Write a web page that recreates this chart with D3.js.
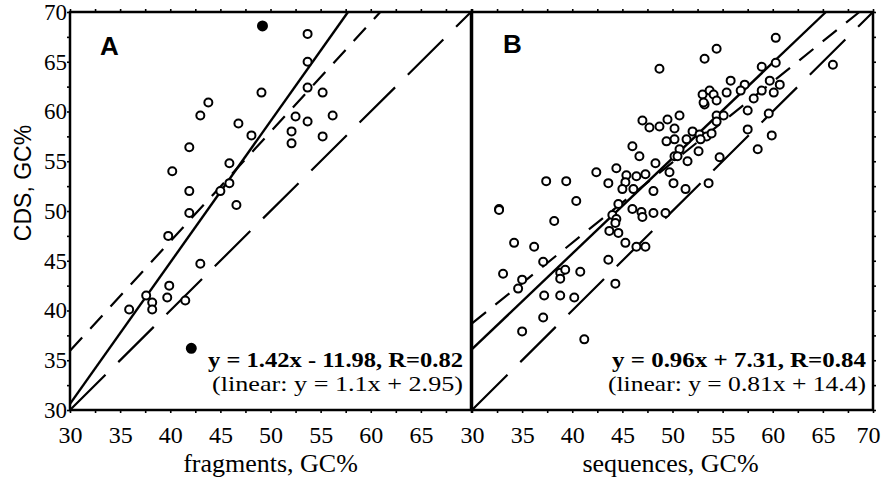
<!DOCTYPE html>
<html>
<head>
<meta charset="utf-8">
<script src="https://cdn.jsdelivr.net/npm/d3@7"></script>
<style>
body { margin: 0; background: #fff; }
</style>
</head>
<body>
<div id="viz"></div>
<script>

// data //

var ticks = d3.range(30, 70.01, 2.5);

// panel A: fragments vs CDS
var fragX = [53.7, 53.7, 49.1, 53.7, 55.2, 43.8, 43.0, 46.8, 52.5, 53.7, 56.2, 48.1, 52.1, 52.1, 55.2, 41.9,
             45.9, 40.2, 41.9, 45.0, 45.9, 46.6, 41.9, 39.8, 43.0, 39.9, 39.7, 37.6, 38.2, 38.2, 35.9, 41.5];
var fragY = [67.8, 65.0, 61.9, 62.4, 61.9, 60.9, 59.6, 58.8, 59.5, 59.0, 59.6, 57.6, 58.0, 56.8, 57.5, 56.4,
             54.8, 54.0, 52.0, 52.0, 52.8, 50.6, 49.8, 47.5, 44.7, 42.5, 41.3, 41.5, 40.8, 40.1, 40.1, 41.0];
var outX = [49.2, 42.1];
var outY = [68.6, 36.2];

// panel B: sequences vs CDS
var seqX = [60.3, 54.4, 53.2, 48.7, 66.0, 58.9, 60.3, 55.8, 57.2, 59.7, 60.7, 55.4, 56.8, 58.9, 60.1, 58.1,
            53.0, 53.7, 54.1, 54.4, 53.2, 53.1, 57.5, 59.6, 54.4, 55.1, 54.4, 50.7, 49.5, 47.0, 47.7, 48.7,
            50.2, 57.5, 52.0, 52.7, 53.4, 53.9, 51.4, 50.2, 49.4, 52.8, 59.9, 50.7, 58.5, 46.0, 46.7, 50.2,
            50.5, 52.6, 51.5, 54.7, 48.3, 44.4, 42.4, 49.7, 45.4, 46.4, 47.3, 43.6, 45.3, 50.1, 53.6, 37.4,
            39.4, 45.0, 46.1, 51.3, 48.1, 40.4, 44.6, 32.7, 32.7, 46.0, 46.9, 48.1, 49.3, 44.0, 47.0, 44.4,
            44.3, 38.2, 43.7, 44.6, 34.2, 36.2, 45.3, 46.4, 47.3, 37.1, 33.1, 35.0, 34.6, 38.8, 38.8, 39.3,
            40.8, 43.6, 44.3, 37.2, 38.8, 40.2, 37.1, 35.0, 41.2];
var seqY = [67.4, 66.3, 65.3, 64.3, 64.7, 64.5, 64.9, 63.1, 62.7, 63.1, 62.7, 61.9, 62.1, 62.1, 61.9, 61.3,
            61.7, 62.1, 61.7, 61.1, 60.7, 60.9, 60.1, 59.8, 59.6, 59.6, 59.0, 59.6, 59.2, 59.1, 58.4, 58.5,
            58.3, 58.2, 58.0, 57.7, 57.5, 57.8, 57.2, 57.2, 57.0, 57.2, 57.6, 56.2, 56.2, 56.5, 55.5, 55.5,
            55.5, 56.0, 55.0, 55.4, 54.8, 54.3, 53.9, 53.9, 53.6, 53.5, 53.7, 52.8, 52.9, 52.8, 52.8, 53.0,
            53.0, 52.2, 52.2, 52.2, 52.0, 51.0, 50.7, 50.2, 50.1, 50.2, 49.9, 49.8, 49.8, 49.6, 49.4, 49.2,
            48.8, 49.0, 48.0, 47.8, 46.8, 46.4, 46.8, 46.4, 46.4, 44.9, 43.7, 43.1, 42.2, 43.8, 43.2, 44.1,
            43.9, 45.1, 42.7, 41.5, 41.5, 41.3, 39.3, 37.9, 37.1];

// fitted lines: [slope, intercept]
var fitA = [1.42, -11.98];
var linA = [1.1, 2.95];
var fitB = [0.96, 7.31];
var linB = [0.81, 14.4];
var diag = [1, 0];

var eqA = ["y = 1.42x - 11.98, R=0.82", "(linear: y = 1.1x + 2.95)"];
var eqB = ["y = 0.96x + 7.31, R=0.84", "(linear: y = 0.81x + 14.4)"];

// svg //

var width = 883;
var height = 483;
var serif = "'Liberation Serif', 'Times New Roman', serif";
var sans = "'Liberation Sans', Arial, sans-serif";

var svg = d3.select("#viz").append("svg")
   .attr("width", width)
   .attr("height", height)
   .style("background", "#fff");

var y = d3.scaleLinear().domain([30, 70]).range([410, 12]);
var xA = d3.scaleLinear().domain([30, 70]).range([70, 471]);
var xB = d3.scaleLinear().domain([30, 70]).range([472, 873]);

function fmt(last) {
   return function(d) { return (d % 5 === 0 && d <= last) ? d : ""; };
}

function styleTicks(g, size) {
   g.attr("font-family", null).attr("font-size", null);
   g.selectAll(".tick line").style("stroke", "#000").style("stroke-width", 1.6);
   g.selectAll(".tick text")
      .style("font-family", serif)
      .style("font-size", size)
      .style("fill", "#000");
   g.select(".domain").remove();
}

function drawAxes(x, lastLabel) {
   var gb = svg.append("g")
      .attr("transform", "translate(0," + y(30) + ")")
      .call(d3.axisBottom(x).tickValues(ticks).tickFormat(fmt(lastLabel)).tickSize(3).tickPadding(13));
   styleTicks(gb, "24px");
   gb.selectAll(".tick text").filter(function(d) { return d === 70; }).attr("dx", -5);
   var gt = svg.append("g")
      .attr("transform", "translate(0," + y(70) + ")")
      .call(d3.axisTop(x).tickValues(ticks).tickFormat("").tickSize(3));
   styleTicks(gt, "10px");
}

function drawLine(x, coef, dash, w) {
   var m = coef[0], b = coef[1];
   var x0 = 30, y0 = m * 30 + b;
   if (y0 < 30) { x0 = (30 - b) / m; y0 = 30; }
   var x1 = Math.min(70, (70 - b) / m);
   var y1 = m * x1 + b;
   svg.append("line")
      .attr("x1", x(x0)).attr("y1", y(y0))
      .attr("x2", x(x1)).attr("y2", y(y1))
      .style("stroke", "#000")
      .style("stroke-width", w)
      .style("stroke-dasharray", dash);
}

function drawPoints(x, xs, ys, filled) {
   svg.append("g").selectAll("circle")
      .data(xs)
      .enter().append("circle")
      .attr("cx", function(d) { return x(d); })
      .attr("cy", function(d, i) { return y(ys[i]); })
      .attr("r", filled ? 4.5 : 4)
      .style("fill", filled ? "#000" : "#fff")
      .style("stroke", "#000")
      .style("stroke-width", 2);
}

function drawEq(lines, right, widths) {
   svg.append("text")
      .attr("x", right - widths[0]).attr("y", 367)
      .attr("textLength", widths[0]).attr("lengthAdjust", "spacingAndGlyphs")
      .style("font-family", serif)
      .style("font-weight", "bold")
      .style("font-size", "22px")
      .text(lines[0]);
   svg.append("text")
      .attr("x", right - widths[1]).attr("y", 391)
      .attr("textLength", widths[1]).attr("lengthAdjust", "spacingAndGlyphs")
      .style("font-family", serif)
      .style("font-size", "22px")
      .text(lines[1]);
}

// Panel A //

drawAxes(xA, 65);
var gl = svg.append("g")
   .attr("transform", "translate(" + xA(30) + ",0)")
   .call(d3.axisLeft(y).tickValues(ticks).tickFormat(fmt(70)).tickSize(3).tickPadding(0));
styleTicks(gl, "23px");

drawLine(xA, diag, "50,18", 2.2);
drawLine(xA, linA, "18,12", 2.2);
drawLine(xA, fitA, null, 2.4);
drawPoints(xA, fragX, fragY, false);
drawPoints(xA, outX, outY, true);
drawEq(eqA, 463, [255, 251]);

svg.append("text")
   .attr("x", 100).attr("y", 55)
   .style("font-family", sans)
   .style("font-weight", "bold")
   .style("font-size", "26px")
   .text("A");

// Panel B //

drawAxes(xB, 70);
var gr = svg.append("g")
   .attr("transform", "translate(" + xB(70) + ",0)")
   .call(d3.axisRight(y).tickValues(ticks).tickFormat("").tickSize(3));
styleTicks(gr, "10px");

drawLine(xB, diag, "50,18", 2.2);
drawLine(xB, linB, "18,12", 2.2);
drawLine(xB, fitB, null, 2.4);
drawPoints(xB, seqX, seqY, false);
drawEq(eqB, 866, [254, 258]);

svg.append("text")
   .attr("x", 503).attr("y", 53)
   .style("font-family", sans)
   .style("font-weight", "bold")
   .style("font-size", "26px")
   .text("B");

// Frames //

svg.append("rect")
   .attr("x", xA(30)).attr("y", y(70))
   .attr("width", xA(70) - xA(30)).attr("height", y(30) - y(70))
   .style("fill", "none").style("stroke", "#000").style("stroke-width", 2.5);
svg.append("rect")
   .attr("x", xB(30)).attr("y", y(70))
   .attr("width", xB(70) - xB(30)).attr("height", y(30) - y(70))
   .style("fill", "none").style("stroke", "#000").style("stroke-width", 2.5);

// Axis titles //

svg.append("text")
   .attr("x", xA(50)).attr("y", 472)
   .attr("text-anchor", "middle")
   .style("font-family", serif)
   .style("font-size", "26px")
   .text("fragments, GC%");

svg.append("text")
   .attr("x", xB(50) - 2).attr("y", 472)
   .attr("text-anchor", "middle")
   .style("font-family", serif)
   .style("font-size", "26px")
   .text("sequences, GC%");

svg.append("text")
   .attr("transform", "translate(31,183) rotate(-90)")
   .attr("text-anchor", "middle")
   .style("font-family", sans)
   .style("font-size", "23px")
   .text("CDS, GC%");

</script>
</body>
</html>
